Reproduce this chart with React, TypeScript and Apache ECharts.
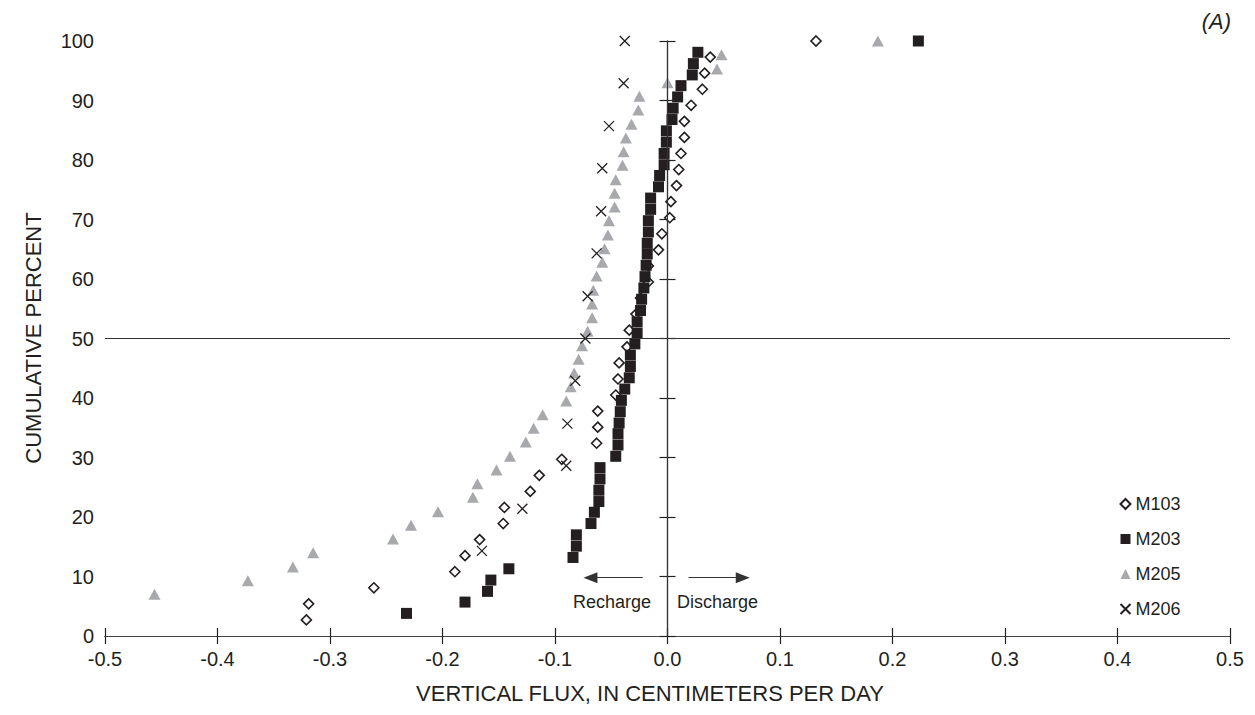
import React, { useEffect, useRef } from "react";
import * as echarts from "echarts";

const xTicks = [-0.5, 0.5, 0.1];
const seriesNames = ["M103", "M203", "M205", "M206"];

const m103Flux = [-0.321, -0.319, -0.261, -0.189, -0.18, -0.167, -0.146, -0.145, -0.122, -0.114, -0.094, -0.063, -0.062, -0.062, -0.046, -0.044, -0.043, -0.036, -0.034, -0.028, -0.024, -0.017, -0.017, -0.008, -0.005, 0.002, 0.003, 0.008, 0.01, 0.012, 0.015, 0.015, 0.021, 0.031, 0.033, 0.038, 0.132];
const m103Pct = [2.7, 5.4, 8.1, 10.8, 13.5, 16.2, 18.9, 21.6, 24.3, 27.0, 29.7, 32.4, 35.1, 37.8, 40.5, 43.2, 45.9, 48.6, 51.4, 54.1, 56.8, 59.5, 62.2, 64.9, 67.6, 70.3, 73.0, 75.7, 78.4, 81.1, 83.8, 86.5, 89.2, 91.9, 94.6, 97.3, 100];

const m203Flux = [-0.232, -0.18, -0.16, -0.157, -0.141, -0.084, -0.081, -0.081, -0.068, -0.065, -0.061, -0.061, -0.06, -0.06, -0.046, -0.044, -0.044, -0.043, -0.042, -0.041, -0.038, -0.034, -0.033, -0.033, -0.029, -0.027, -0.027, -0.024, -0.023, -0.021, -0.02, -0.019, -0.018, -0.018, -0.017, -0.017, -0.015, -0.015, -0.008, -0.007, -0.003, -0.003, -0.001, -0.001, 0.004, 0.005, 0.009, 0.012, 0.022, 0.023, 0.027, 0.223];
const m203Pct = [3.8, 5.7, 7.5, 9.4, 11.3, 13.2, 15.1, 17.0, 18.9, 20.8, 22.6, 24.5, 26.4, 28.3, 30.2, 32.1, 34.0, 35.8, 37.7, 39.6, 41.5, 43.4, 45.3, 47.2, 49.1, 50.9, 52.8, 54.7, 56.6, 58.5, 60.4, 62.3, 64.2, 66.0, 67.9, 69.8, 71.7, 73.6, 75.5, 77.4, 79.2, 81.1, 83.0, 84.9, 86.8, 88.7, 90.6, 92.5, 94.3, 96.2, 98.1, 100];

const m205Flux = [-0.456, -0.373, -0.333, -0.315, -0.244, -0.228, -0.204, -0.173, -0.169, -0.152, -0.14, -0.126, -0.119, -0.111, -0.09, -0.086, -0.083, -0.079, -0.076, -0.071, -0.067, -0.067, -0.066, -0.063, -0.058, -0.056, -0.053, -0.052, -0.047, -0.047, -0.046, -0.04, -0.039, -0.037, -0.032, -0.026, -0.025, 0.0, 0.044, 0.048, 0.187];
const m205Pct = [7.0, 9.3, 11.6, 14.0, 16.3, 18.6, 20.9, 23.3, 25.6, 27.9, 30.2, 32.6, 34.9, 37.2, 39.5, 41.9, 44.2, 46.5, 48.8, 51.2, 53.5, 55.8, 58.1, 60.5, 62.8, 65.1, 67.4, 69.8, 72.1, 74.4, 76.7, 79.1, 81.4, 83.7, 86.0, 88.4, 90.7, 93.0, 95.3, 97.7, 100];

const m206Flux = [-0.165, -0.129, -0.09, -0.089, -0.082, -0.073, -0.071, -0.063, -0.059, -0.058, -0.052, -0.039, -0.038];
const m206Pct = [14.3, 21.4, 28.6, 35.7, 42.9, 50.0, 57.1, 64.3, 71.4, 78.6, 85.7, 92.9, 100];

const zip = (xs: number[], ys: number[]) => xs.map((x, i) => [x, ys[i]]);

const FONT = "'Liberation Sans', Arial, Helvetica, sans-serif";
const INK = "#231f20";

export default function App() {
  const ref = useRef<HTMLDivElement>(null);
  useEffect(() => {
    if (!ref.current) return;
    const chart = echarts.init(ref.current, undefined, { renderer: "svg" });
    const axisCommon = {
      axisLine: { show: true, lineStyle: { color: "#444", width: 1.2 } },
      axisTick: { show: true, inside: true, length: 8, lineStyle: { color: "#222", width: 1.2 } },
      splitLine: { show: false },
    };
    const tickFmt = (v: number) => v.toFixed(1);
    const option: any = {
      animation: false,
      backgroundColor: "#fff",
      textStyle: { fontFamily: FONT, color: INK },
      grid: { left: 105, right: 25, top: 41, bottom: 79, containLabel: false },
      xAxis: [
        {
          type: "value",
          min: xTicks[0],
          max: xTicks[1],
          interval: xTicks[2],
          position: "bottom",
          ...axisCommon,
          axisLabel: { formatter: tickFmt, fontSize: 20, color: INK, fontFamily: FONT, margin: 13 },
        },
        {
          type: "value",
          min: xTicks[0],
          max: xTicks[1],
          interval: xTicks[2],
          position: "top",
          ...axisCommon,
          axisLabel: { show: false },
        },
      ],
      yAxis: [
        {
          type: "value",
          min: 0,
          max: 100,
          interval: 10,
          position: "left",
          ...axisCommon,
          axisLabel: { fontSize: 20, color: INK, fontFamily: FONT, margin: 11 },
        },
        {
          type: "value",
          min: 0,
          max: 100,
          interval: 10,
          position: "right",
          ...axisCommon,
          axisLabel: { show: false },
        },
      ],
      legend: {
        orient: "vertical",
        left: 1113,
        top: 490,
        itemGap: 17,
        itemWidth: 10,
        itemHeight: 10,
        textStyle: { fontSize: 18, color: INK, fontFamily: FONT },
        data: seriesNames,
      },
      graphic: [
        {
          type: "text",
          x: 1231,
          y: 21,
          style: { text: "(A)", font: `italic 22px ${FONT}`, fill: INK, align: "right", verticalAlign: "middle", textAlign: "right", textVerticalAlign: "middle" },
        },
        {
          type: "text",
          x: 650,
          y: 693,
          style: { text: "VERTICAL FLUX, IN CENTIMETERS PER DAY", font: `22px ${FONT}`, fill: INK, align: "center", verticalAlign: "middle", textAlign: "center", textVerticalAlign: "middle" },
        },
        {
          type: "text",
          x: 33,
          y: 338,
          rotation: Math.PI / 2,
          style: { text: "CUMULATIVE PERCENT", font: `22px ${FONT}`, fill: INK, align: "center", verticalAlign: "middle", textAlign: "center", textVerticalAlign: "middle" },
        },
        { type: "text", left: 573, top: 593, style: { text: "Recharge", font: `18px ${FONT}`, fill: INK } },
        { type: "text", left: 677, top: 593, style: { text: "Discharge", font: `18px ${FONT}`, fill: INK } },
      ],
      series: [
        {
          name: "M103",
          type: "scatter",
          data: zip(m103Flux, m103Pct),
          symbol: "diamond",
          symbolSize: 10,
          itemStyle: { color: "#fff", borderColor: INK, borderWidth: 1.6, opacity: 1 },
          z: 2,
          markLine: {
            silent: true,
            symbol: "none",
            label: { show: false },
            lineStyle: { color: "#333", width: 1, type: "solid" },
            data: [
              { xAxis: 0 },
              { yAxis: 50 },
              [
                { coord: [-0.022, 9.8], symbol: "none" },
                { coord: [-0.0685, 9.8], symbol: "triangle", symbolSize: [11, 14] },
              ],
              [
                { coord: [0.0187, 9.8], symbol: "none" },
                { coord: [0.0669, 9.8], symbol: "triangle", symbolSize: [11, 14] },
              ],
            ],
          },
        },
        {
          name: "M203",
          type: "scatter",
          data: zip(m203Flux, m203Pct),
          symbol: "rect",
          symbolSize: 11,
          itemStyle: { color: INK, opacity: 1 },
          z: 3,
        },
        {
          name: "M205",
          type: "scatter",
          data: zip(m205Flux, m205Pct),
          symbol: "triangle",
          symbolSize: [12, 11],
          itemStyle: { color: "#a7a9ac", opacity: 1 },
          z: 2,
        },
        {
          name: "M206",
          type: "scatter",
          data: zip(m206Flux, m206Pct),
          symbol: "path://M0,0L10,10M10,0L0,10",
          symbolSize: 10,
          itemStyle: { color: "none", borderColor: INK, borderWidth: 1.3, opacity: 1 },
          z: 4,
        },
      ],
    };
    chart.setOption(option);
    return () => chart.dispose();
  }, []);
  return <div ref={ref} style={{ width: 1255, height: 715, position: "absolute", left: 0, top: 0 }} />;
}
